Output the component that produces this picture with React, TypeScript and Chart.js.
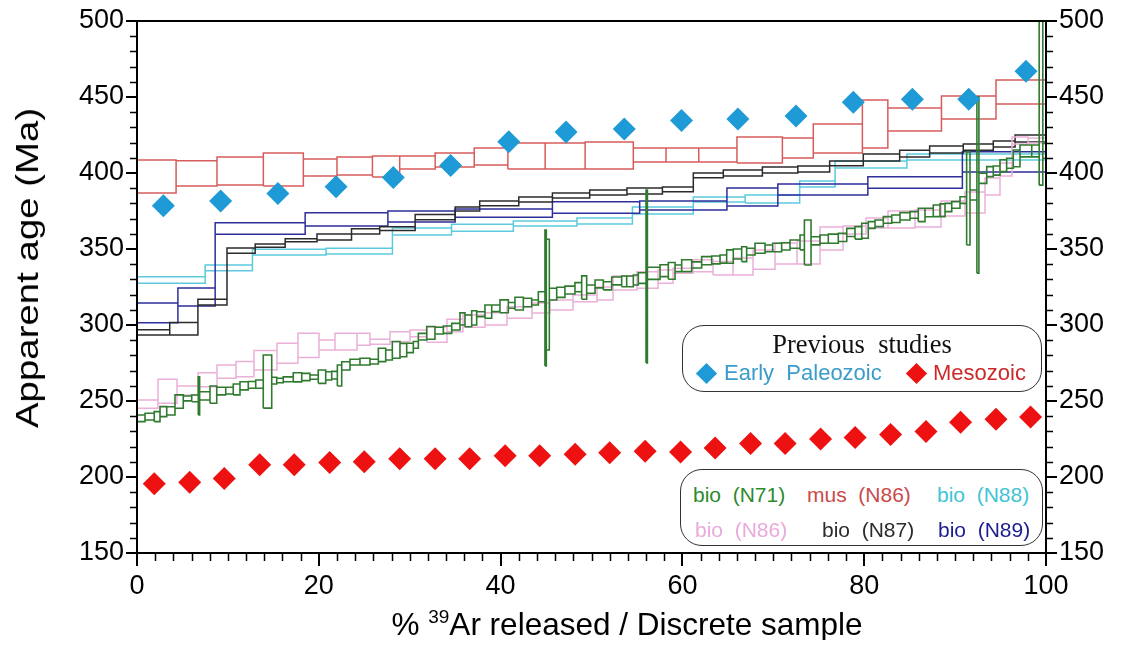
import React, { useEffect, useRef } from "react";
import { Chart, registerables } from "chart.js";

Chart.register(...registerables);

// ---------- tick labels ----------
const xTickValues = [0, 20, 40, 60, 80, 100];
const yTickValues = [150, 200, 250, 300, 350, 400, 450, 500];
const yMinorStep = 10;
const xMinorStep = 2;

// ---------- previous studies (diamonds) ----------
const earlyPaleozoicX = [2.9, 9.2, 15.5, 21.9, 28.2, 34.5, 40.9, 47.2, 53.6, 59.9, 66.1, 72.5, 78.8, 85.3, 91.5, 97.8];
const earlyPaleozoicAge = [378.5, 381.5, 386.5, 391, 397, 405, 420.5, 427, 429, 434.5, 435.5, 437.5, 446.5, 448.5, 448.5, 467];

const mesozoicX = [1.9, 5.8, 9.6, 13.5, 17.3, 21.2, 25.0, 28.9, 32.8, 36.6, 40.5, 44.3, 48.2, 52.0, 55.9, 59.8, 63.6, 67.5, 71.3, 75.2, 79.0, 82.9, 86.8, 90.6, 94.5, 98.3];
const mesozoicAge = [195.5, 196.5, 199, 208, 208, 209.5, 210, 212, 212, 212, 214, 214, 215, 216, 217, 216.5, 219, 222, 222, 225, 226, 228, 230, 236, 238, 239.5];

// ---------- age spectra: cumulative %39Ar step boundaries, apparent age, error ----------
const musN86Steps = [0, 4.3, 8.8, 13.9, 18.3, 22.0, 25.9, 28.9, 32.8, 37.1, 40.8, 44.9, 49.3, 54.6, 58.2, 61.8, 66.0, 71.0, 74.4, 79.8, 82.6, 88.5, 94.5, 100];
const musN86Ages = [397.7, 399.7, 401.3, 402.3, 403.6, 404.6, 404.3, 406.9, 408.6, 410.9, 411.2, 411.2, 411.5, 411.8, 411.8, 411.8, 415.1, 416.4, 422.7, 432.2, 435.2, 443.1, 453.3];
const musN86Errors = [10.9, 8.3, 9.2, 10.9, 5.6, 5.9, 6.9, 4.3, 4.6, 5.6, 8.6, 8.6, 8.9, 4.6, 4.6, 4.6, 8.6, 6.6, 9.5, 15.8, 7.6, 7.6, 7.9];

const bioN88Steps = [0, 7.5, 12.7, 20.8, 28.1, 34.6, 41.4, 48.4, 54.5, 61.2, 66.9, 72.9, 76.8, 84.7, 100];
const bioN88Ages = [329.6, 337.6, 348.0, 348.6, 361.5, 364.0, 366.8, 368.4, 375.3, 382.6, 382.9, 392.8, 405.6, 410.5];
const bioN88Errors = [2.2, 1.9, 1.9, 1.9, 2.3, 2.3, 1.6, 2.0, 2.3, 1.6, 2.6, 2.0, 2.3, 2.0];

const bioN89Steps = [0, 4.5, 8.6, 18.5, 27.6, 35.0, 45.7, 55.3, 64.9, 70.5, 80.4, 90.8, 100];
const bioN89Ages = [308.0, 318.4, 363.5, 369.5, 371.4, 373.6, 377.3, 378.6, 384.2, 389.1, 393.8, 407.3];
const bioN89Errors = [6.5, 5.9, 3.8, 4.4, 3.6, 2.7, 3.8, 3.0, 5.9, 3.6, 3.8, 6.6];

const bioN87Steps = [0, 3.6, 6.7, 9.9, 13.0, 16.3, 19.8, 23.6, 26.7, 30.6, 35.0, 37.7, 42.0, 45.7, 49.8, 53.9, 57.8, 61.2, 64.5, 68.8, 72.7, 76.2, 79.9, 83.9, 87.2, 90.9, 94.2, 96.6, 100];
const bioN87Ages = [295.1, 297.5, 315.1, 348.9, 352.2, 355.7, 357.9, 361.6, 363.4, 371.0, 376.3, 380.0, 382.6, 385.2, 387.2, 388.2, 389.2, 398.4, 400.0, 402.0, 402.6, 406.3, 410.2, 412.7, 415.5, 417.0, 419.1, 422.7];
const bioN87Errors = [1.7, 4.1, 1.9, 1.7, 1.1, 1.0, 2.0, 1.7, 1.3, 1.7, 1.3, 1.6, 1.6, 1.6, 1.6, 2.0, 1.6, 1.6, 2.0, 2.0, 2.0, 1.6, 2.3, 2.2, 2.3, 2.1, 2.0, 2.3];

const bioN86Steps = [0, 2.31, 4.40, 6.71, 8.80, 10.89, 12.87, 15.40, 17.71, 20.02, 21.78, 24.20, 25.63, 27.83, 30.03, 31.90, 34.10, 35.86, 38.28, 40.70, 43.45, 45.43, 47.96, 50.61, 52.37, 55.01, 57.32, 58.97, 61.17, 63.37, 65.57, 67.77, 70.19, 72.61, 75.14, 77.67, 80.20, 82.62, 85.59, 88.45, 91.09, 93.29, 94.94, 96.26, 98.02, 100];
const bioN86Ages = [248.0, 256.4, 256.9, 264.0, 269.3, 271.0, 276.8, 281.4, 286.6, 286.8, 289.0, 290.6, 289.0, 292.3, 294.5, 293.7, 299.7, 302.6, 304.0, 308.2, 311.2, 313.2, 317.5, 320.7, 327.6, 329.6, 331.8, 335.7, 339.0, 337.3, 338.5, 343.0, 347.0, 347.7, 356.9, 362.5, 367.1, 369.4, 370.1, 376.6, 380.6, 391.1, 402.3, 421.4, 421.4];
const bioN86Errors = [2.7, 7.9, 3.0, 4.6, 4.4, 5.0, 6.4, 6.6, 7.9, 3.3, 5.5, 3.9, 1.6, 3.3, 2.2, 5.0, 4.1, 4.0, 4.0, 3.8, 3.3, 3.3, 2.2, 4.3, 4.6, 5.5, 4.4, 1.6, 3.9, 4.4, 5.6, 6.3, 6.9, 7.6, 7.6, 2.6, 3.3, 5.6, 5.6, 4.9, 6.9, 5.6, 4.3, 2.3, 1.6];

const bioN71Steps = [0, 0.88, 1.90, 2.53, 3.27, 4.18, 5.09, 6.02, 6.74, 6.89, 8.03, 8.77, 9.76, 10.59, 11.33, 12.24, 13.06, 13.89, 14.82, 15.37, 16.09, 17.19, 18.12, 19.03, 19.94, 20.76, 21.42, 22.04, 22.52, 23.43, 24.53, 25.63, 26.55, 27.36, 28.09, 28.93, 29.67, 30.40, 30.95, 31.87, 32.78, 33.70, 34.62, 35.53, 36.08, 36.82, 37.37, 38.28, 39.02, 39.93, 40.85, 41.58, 42.50, 43.42, 44.15, 44.88, 45.03, 45.36, 46.17, 47.08, 48.18, 48.92, 49.47, 50.39, 51.30, 52.22, 53.32, 53.87, 54.60, 55.15, 56.00, 56.15, 57.54, 58.45, 59.19, 59.92, 61.02, 62.12, 63.22, 64.14, 64.87, 65.60, 66.52, 67.07, 67.99, 69.09, 69.93, 70.92, 71.84, 72.94, 73.42, 74.15, 75.14, 76.05, 77.15, 78.08, 78.99, 79.73, 80.45, 81.19, 82.10, 83.03, 83.94, 85.04, 85.95, 86.69, 87.60, 88.34, 88.89, 89.63, 90.54, 91.27, 91.64, 92.40, 92.62, 93.48, 94.20, 94.94, 95.67, 96.40, 97.14, 98.43, 99.25, 99.65, 100];
const bioN71Ages = [238.6, 239.7, 239.7, 243.0, 243.5, 249.6, 251.7, 251.7, 253.4, 253.4, 254.2, 256.5, 256.8, 257.6, 260.0, 260.6, 261.1, 262.8, 263.4, 263.5, 264.3, 265.6, 265.8, 265.7, 266.0, 266.5, 267.0, 266.8, 273.1, 275.6, 275.9, 275.9, 280.3, 280.3, 283.6, 283.5, 284.9, 286.9, 292.3, 294.8, 296.3, 296.9, 298.9, 304.0, 302.7, 304.7, 307.1, 308.8, 311.0, 312.3, 312.9, 314.1, 314.8, 314.8, 318.6, 317.8, 320.0, 320.3, 321.5, 323.0, 324.9, 324.6, 323.6, 327.0, 325.8, 329.0, 328.7, 328.7, 329.6, 330.9, 331.9, 334.0, 335.7, 335.6, 337.3, 339.0, 339.5, 342.3, 342.8, 343.4, 345.0, 346.7, 346.6, 348.3, 350.5, 350.4, 351.0, 351.7, 353.2, 354.3, 354.3, 355.4, 356.5, 356.8, 357.6, 360.9, 360.6, 362.0, 365.8, 366.9, 369.1, 369.9, 371.5, 372.4, 372.4, 374.0, 375.1, 375.5, 377.3, 379.0, 382.2, 383.3, 385.5, 392.1, 396.5, 400.9, 401.6, 404.8, 406.4, 409.6, 414.5, 414.5, 456.0, 414.6];
const bioN71Errors = [2.2, 2.2, 3.3, 3.3, 2.7, 4.4, 1.6, 2.2, 12.6, 2.7, 5.7, 2.5, 2.2, 3.6, 2.7, 2.2, 2.7, 17.5, 2.2, 1.5, 1.6, 3.0, 2.4, 1.4, 4.4, 2.7, 2.5, 6.9, 2.7, 1.9, 2.2, 1.6, 4.4, 3.3, 5.5, 4.4, 3.1, 2.2, 2.2, 4.2, 2.2, 2.4, 2.2, 4.0, 3.9, 4.7, 1.6, 4.4, 2.2, 4.2, 1.9, 4.2, 2.8, 1.6, 3.3, 44.7, 36.4, 3.9, 3.3, 2.6, 3.0, 7.7, 2.7, 2.6, 2.7, 2.6, 3.5, 3.5, 3.3, 3.5, 56.9, 4.0, 3.9, 5.5, 2.2, 3.9, 2.0, 2.7, 2.6, 2.7, 4.4, 3.3, 4.9, 2.2, 3.3, 2.2, 2.8, 2.4, 2.7, 4.9, 14.8, 2.7, 2.7, 3.0, 2.7, 2.7, 4.1, 4.9, 2.2, 2.2, 2.2, 2.5, 2.4, 2.2, 4.4, 2.8, 3.8, 4.2, 2.7, 2.2, 2.2, 30.7, 3.3, 58.1, 3.3, 3.3, 3.0, 3.9, 3.3, 5.5, 3.9, 3.9, 64.0, 4.9];

// ---------- styling ----------
const SANS = "'Liberation Sans', Arial, Helvetica, sans-serif";
const SERIF = "'Liberation Serif', 'Times New Roman', serif";

const COLORS = {
  mus: "#d65c5c",
  n88: "#5ccadb",
  n89: "#2e2e9c",
  n87: "#2b2b2b",
  n86: "#eab0d8",
  n71: "#2f7a2f",
  early: "#1e9bd7",
  meso: "#ee1111",
};

// rectangle per heating step, plus vertical connectors between neighbouring steps
function boxPath(steps: number[], ages: number[], errors: number[]) {
  const pts: { x: number; y: number | null }[] = [];
  for (let i = 0; i < ages.length; i++) {
    const x1 = steps[i];
    const x2 = steps[i + 1];
    const lo = ages[i] - errors[i];
    const hi = ages[i] + errors[i];
    pts.push({ x: x1, y: lo }, { x: x2, y: lo }, { x: x2, y: hi }, { x: x1, y: hi }, { x: x1, y: lo }, { x: x1, y: null });
    if (i < ages.length - 1) {
      const loN = ages[i + 1] - errors[i + 1];
      const hiN = ages[i + 1] + errors[i + 1];
      pts.push({ x: x2, y: Math.min(lo, loN) }, { x: x2, y: Math.max(hi, hiN) }, { x: x2, y: null });
    }
  }
  return pts;
}

function spectrum(label: string, steps: number[], ages: number[], errors: number[], color: string, order: number, width = 1.5) {
  return {
    label,
    data: boxPath(steps, ages, errors),
    showLine: true,
    spanGaps: false,
    borderColor: color,
    borderWidth: width,
    pointRadius: 0,
    pointHoverRadius: 0,
    tension: 0,
    fill: false,
    borderJoinStyle: "miter" as const,
    order,
  };
}

const axisDecor = {
  id: "axisDecor",
  afterDraw(chart: any) {
    const { ctx, chartArea: a, scales } = chart;
    const xs = scales.x;
    const ys = scales.y;
    ctx.save();
    ctx.strokeStyle = "#000";
    ctx.lineWidth = 1.5;
    ctx.beginPath();
    for (let v = yTickValues[0]; v <= yTickValues[yTickValues.length - 1]; v += yMinorStep) {
      if (yTickValues.includes(v)) continue;
      const py = Math.round(ys.getPixelForValue(v)) + 0.5;
      ctx.moveTo(a.left, py);
      ctx.lineTo(a.left - 7, py);
      ctx.moveTo(a.right, py);
      ctx.lineTo(a.right + 7, py);
    }
    for (let v = xTickValues[0]; v <= xTickValues[xTickValues.length - 1]; v += xMinorStep) {
      if (xTickValues.includes(v)) continue;
      const px = Math.round(xs.getPixelForValue(v)) + 0.5;
      ctx.moveTo(px, a.bottom);
      ctx.lineTo(px, a.bottom + 8);
    }
    ctx.stroke();
    ctx.lineWidth = 2;
    ctx.strokeRect(a.left, a.top, a.right - a.left, a.bottom - a.top);
    ctx.restore();
  },
};

function makeYAxis(position: "left" | "right", width: number) {
  return {
    type: "linear" as const,
    position,
    min: 150,
    max: 500,
    afterBuildTicks: (s: any) => {
      s.ticks = yTickValues.map((v) => ({ value: v }));
    },
    afterFit: (s: any) => {
      s.width = width;
      s.paddingTop = 0;
      s.paddingBottom = 0;
    },
    grid: { display: true, drawOnChartArea: false, drawTicks: true, tickLength: 11, color: "#000", lineWidth: 2 },
    border: { display: true, color: "#000", width: 2 },
    ticks: { color: "#000", font: { family: SANS, size: 27 }, padding: 2 },
  };
}

const textBase: React.CSSProperties = {
  position: "absolute",
  whiteSpace: "pre",
  lineHeight: 1,
  transform: "translateY(-50%)",
};

function Diamond({ left, top, color }: { left: number; top: number; color: string }) {
  return (
    <div
      style={{
        position: "absolute",
        left: left - 7.5,
        top: top - 7.5,
        width: 15,
        height: 15,
        background: color,
        transform: "rotate(45deg)",
      }}
    />
  );
}

export default function App() {
  const canvasRef = useRef<HTMLCanvasElement>(null);

  useEffect(() => {
    const datasets: any[] = [
      {
        label: "Early Paleozoic",
        data: earlyPaleozoicX.map((x, i) => ({ x, y: earlyPaleozoicAge[i] })),
        showLine: false,
        pointStyle: "rectRot",
        pointRadius: 11.5,
        pointBorderWidth: 0,
        backgroundColor: COLORS.early,
        borderColor: COLORS.early,
        order: 0,
      },
      {
        label: "Mesozoic",
        data: mesozoicX.map((x, i) => ({ x, y: mesozoicAge[i] })),
        showLine: false,
        pointStyle: "rectRot",
        pointRadius: 11.5,
        pointBorderWidth: 0,
        backgroundColor: COLORS.meso,
        borderColor: COLORS.meso,
        order: 0,
      },
      spectrum("bio (N71)", bioN71Steps, bioN71Ages, bioN71Errors, COLORS.n71, 1, 1.6),
      spectrum("bio (N86)", bioN86Steps, bioN86Ages, bioN86Errors, COLORS.n86, 2),
      spectrum("bio (N87)", bioN87Steps, bioN87Ages, bioN87Errors, COLORS.n87, 3),
      spectrum("bio (N89)", bioN89Steps, bioN89Ages, bioN89Errors, COLORS.n89, 4),
      spectrum("bio (N88)", bioN88Steps, bioN88Ages, bioN88Errors, COLORS.n88, 5),
      spectrum("mus (N86)", musN86Steps, musN86Ages, musN86Errors, COLORS.mus, 6),
    ];

    const chart = new Chart(canvasRef.current as HTMLCanvasElement, {
      type: "scatter",
      data: { datasets },
      options: {
        responsive: false,
        animation: false,
        events: [],
        layout: { padding: { top: 13, left: 0, right: 0, bottom: 0 } },
        plugins: {
          legend: { display: false },
          tooltip: { enabled: false },
          title: { display: false },
        },
        scales: {
          x: {
            type: "linear",
            position: "bottom",
            min: 0,
            max: 100,
            afterBuildTicks: (s: any) => {
              s.ticks = xTickValues.map((v) => ({ value: v }));
            },
            afterFit: (s: any) => {
              s.height = 87;
              s.paddingLeft = 0;
              s.paddingRight = 0;
            },
            grid: { display: true, drawOnChartArea: false, drawTicks: true, tickLength: 13, color: "#000", lineWidth: 2 },
            border: { display: true, color: "#000", width: 2 },
            ticks: { color: "#000", font: { family: SANS, size: 27 }, padding: 4, maxRotation: 0, autoSkip: false },
          },
          y: makeYAxis("left", 129),
          y2: makeYAxis("right", 75),
        },
      } as any,
      plugins: [axisDecor],
    });
    return () => chart.destroy();
  }, []);

  return (
    <div style={{ position: "relative", width: 1113, height: 632, background: "#fff", fontFamily: SANS }}>
      <canvas ref={canvasRef} width={1113} height={632} style={{ position: "absolute", left: 0, top: 0 }} />

      {/* axis titles */}
      <div
        style={{
          position: "absolute",
          left: 19,
          top: 260,
          transform: "translate(-50%, -50%) rotate(-90deg) scaleX(1.2)",
          whiteSpace: "nowrap",
          fontSize: 32,
          lineHeight: 1,
          color: "#000",
        }}
      >
        Apparent age (Ma)
      </div>
      <div
        style={{
          position: "absolute",
          left: 619,
          top: 617,
          transform: "translate(-50%, -50%)",
          whiteSpace: "nowrap",
          fontSize: 31.5,
          lineHeight: 1,
          color: "#000",
        }}
      >
        % <sup style={{ fontSize: 19, verticalAlign: "top", position: "relative", top: -2 }}>39</sup>Ar released / Discrete sample
      </div>

      {/* legend: previous studies */}
      <div
        style={{
          position: "absolute",
          left: 674,
          top: 317,
          width: 360,
          height: 67,
          border: "1.5px solid #333",
          borderRadius: 22,
          boxSizing: "border-box",
          background: "#fff",
        }}
      >
        <div style={{ ...textBase, left: 0, width: "100%", textAlign: "center", top: 18, fontFamily: SERIF, fontSize: 26.5, color: "#111" }}>
          {"Previous  studies"}
        </div>
        <Diamond left={23} top={47} color={COLORS.early} />
        <div style={{ ...textBase, left: 41, top: 47, fontSize: 22, color: "#3a9cc8" }}>{"Early  Paleozoic"}</div>
        <Diamond left={233} top={47} color={COLORS.meso} />
        <div style={{ ...textBase, left: 250, top: 47, fontSize: 22, color: "#cc2a2a" }}>{"Mesozoic"}</div>
      </div>

      {/* legend: samples */}
      <div
        style={{
          position: "absolute",
          left: 672,
          top: 461,
          width: 363,
          height: 77,
          border: "1.5px solid #333",
          borderRadius: 22,
          boxSizing: "border-box",
          background: "#fff",
        }}
      >
        <div style={{ ...textBase, left: 12, top: 24, fontSize: 21, color: "#2d8a2d" }}>{"bio  (N71)"}</div>
        <div style={{ ...textBase, left: 126, top: 24, fontSize: 21, color: "#c94a4a" }}>{"mus  (N86)"}</div>
        <div style={{ ...textBase, left: 256, top: 24, fontSize: 21, color: "#3fc4d4" }}>{"bio  (N88)"}</div>
        <div style={{ ...textBase, left: 14, top: 59, fontSize: 21, color: "#e9a9dc" }}>{"bio  (N86)"}</div>
        <div style={{ ...textBase, left: 141, top: 59, fontSize: 21, color: "#2b2b2b" }}>{"bio  (N87)"}</div>
        <div style={{ ...textBase, left: 257, top: 59, fontSize: 21, color: "#1c1c8f" }}>{"bio  (N89)"}</div>
      </div>
    </div>
  );
}
